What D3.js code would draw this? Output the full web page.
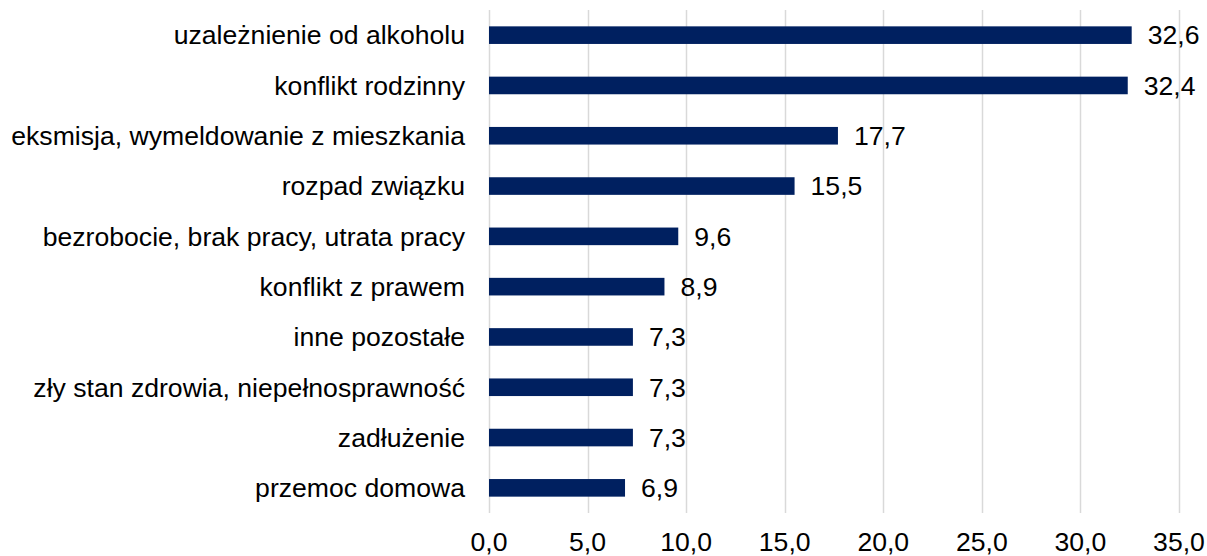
<!DOCTYPE html>
<html>
<head>
<meta charset="utf-8">
<script src="https://cdn.jsdelivr.net/npm/d3@7"></script>
<style>
  body { margin: 0; background: #fff; }
  svg { display: block; font-family: "Liberation Sans", Arial, sans-serif; }
</style>
</head>
<body>
<script>
var categories = [
  "uzależnienie od alkoholu",
  "konflikt rodzinny",
  "eksmisja, wymeldowanie z mieszkania",
  "rozpad związku",
  "bezrobocie, brak pracy, utrata pracy",
  "konflikt z prawem",
  "inne pozostałe",
  "zły stan zdrowia, niepełnosprawność",
  "zadłużenie",
  "przemoc domowa"
];
var values = [32.6, 32.4, 17.7, 15.5, 9.6, 8.9, 7.3, 7.3, 7.3, 6.9];
var ticks = [0, 5, 10, 15, 20, 25, 30, 35];

var width = 1207, height = 556;
var margin = {top: 10, right: 28, bottom: 43, left: 489};
var fontSize = 26.6;

var svg = d3.select("body").append("svg")
    .attr("width", width)
    .attr("height", height);

var x = d3.scaleLinear().domain([0, 35]).range([margin.left, width - margin.right]);
var y = d3.scaleBand().domain(categories).range([margin.top, height - margin.bottom]).paddingInner(0.65).paddingOuter(0.325);

var fmt = function(v) { return d3.format(".1f")(v).replace(".", ","); };

// gridlines
svg.append("g").selectAll("line")
    .data(ticks)
  .enter().append("line")
    .attr("x1", function(d) { return Math.round(x(d)) + 0.5; })
    .attr("x2", function(d) { return Math.round(x(d)) + 0.5; })
    .attr("y1", margin.top)
    .attr("y2", height - margin.bottom)
    .attr("stroke", "#d9d9d9")
    .attr("stroke-width", 1.5);

// x axis labels
svg.append("g").selectAll("text")
    .data(ticks)
  .enter().append("text")
    .attr("x", function(d) { return x(d); })
    .attr("y", 551)
    .attr("text-anchor", "middle")
    .attr("font-size", fontSize)
    .attr("fill", "#000")
    .text(fmt);

// bars
svg.append("g").selectAll("rect")
    .data(values)
  .enter().append("rect")
    .attr("x", x(0))
    .attr("y", function(d, i) { return y(categories[i]); })
    .attr("width", function(d) { return x(d) - x(0); })
    .attr("height", y.bandwidth())
    .attr("fill", "#002060");

// value labels
svg.append("g").selectAll("text")
    .data(values)
  .enter().append("text")
    .attr("x", function(d) { return x(d) + 16; })
    .attr("y", function(d, i) { return y(categories[i]) + y.bandwidth() / 2; })
    .attr("dy", "0.35em")
    .attr("font-size", fontSize)
    .attr("fill", "#000")
    .text(fmt);

// category labels
svg.append("g").selectAll("text")
    .data(categories)
  .enter().append("text")
    .attr("x", margin.left - 24)
    .attr("y", function(d) { return y(d) + y.bandwidth() / 2; })
    .attr("dy", "0.35em")
    .attr("text-anchor", "end")
    .attr("font-size", fontSize)
    .attr("fill", "#000")
    .text(function(d) { return d; });
</script>
</body>
</html>
